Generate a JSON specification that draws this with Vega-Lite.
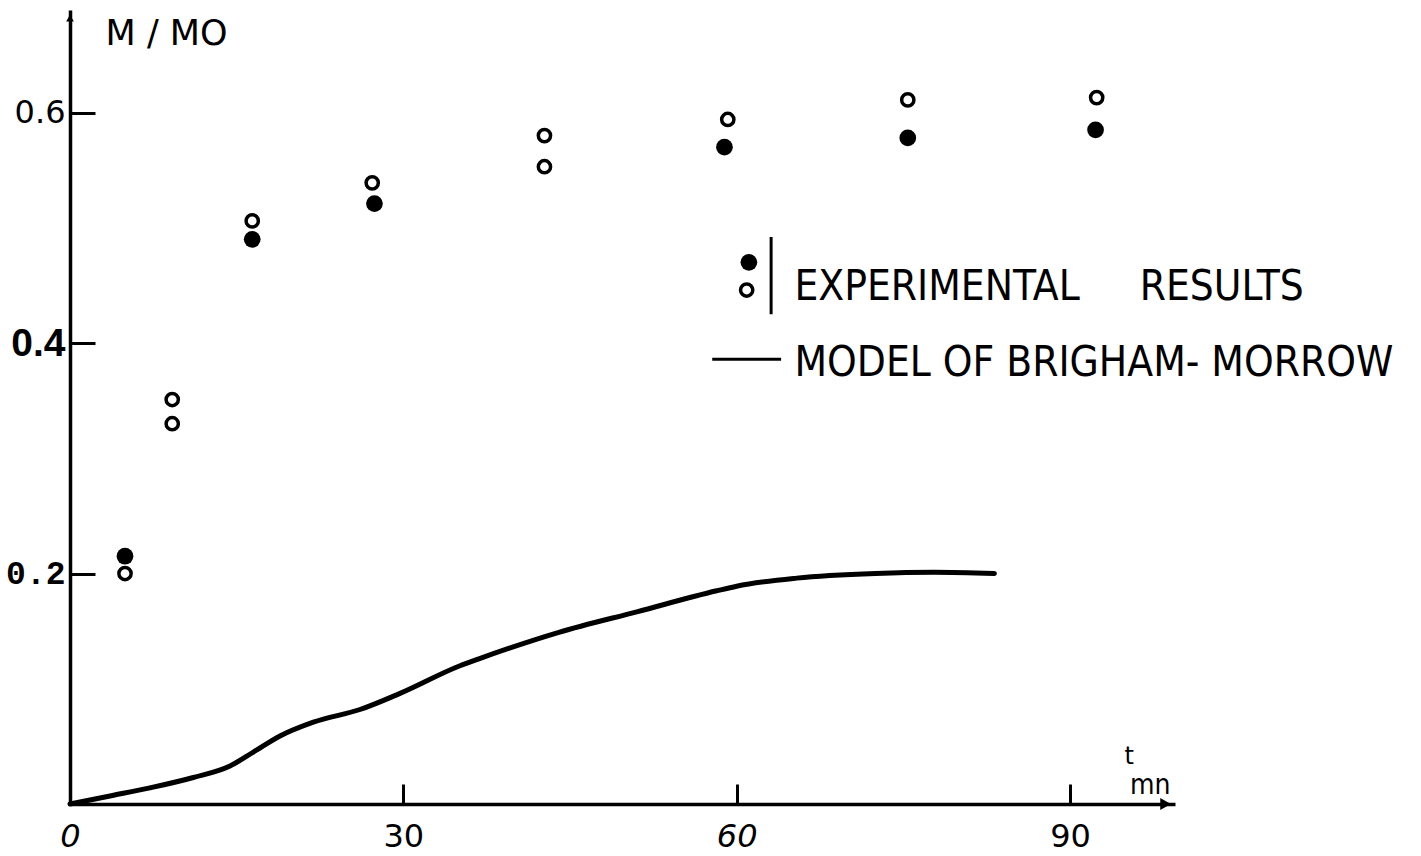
{
  "$schema": "https://vega.github.io/schema/vega-lite/v6.json",
  "width": 1105,
  "height": 794,
  "autosize": {"type": "none"},
  "padding": {"left": 70, "top": 10, "right": 246, "bottom": 52},
  "background": "white",
  "config": {"view": {"stroke": null}},
  "datasets": {
    "points": [
      {"x": 4.95, "y": 0.215, "series": "filled"},
      {"x": 16.4, "y": 0.49, "series": "filled"},
      {"x": 27.4, "y": 0.521, "series": "filled"},
      {"x": 58.9, "y": 0.57, "series": "filled"},
      {"x": 75.4, "y": 0.578, "series": "filled"},
      {"x": 92.3, "y": 0.585, "series": "filled"},
      {"x": 4.95, "y": 0.2, "series": "open"},
      {"x": 9.2, "y": 0.351, "series": "open"},
      {"x": 9.2, "y": 0.33, "series": "open"},
      {"x": 16.4, "y": 0.506, "series": "open"},
      {"x": 27.2, "y": 0.539, "series": "open"},
      {"x": 42.7, "y": 0.58, "series": "open"},
      {"x": 42.7, "y": 0.553, "series": "open"},
      {"x": 59.2, "y": 0.594, "series": "open"},
      {"x": 75.4, "y": 0.611, "series": "open"},
      {"x": 92.4, "y": 0.613, "series": "open"},
      {"x": 61.1, "y": 0.47, "series": "filled"},
      {"x": 60.9, "y": 0.446, "series": "open"}
    ]
  },
  "encoding": {
    "x": {
      "field": "x", "type": "quantitative",
      "scale": {"domain": [0, 99.45], "nice": false, "zero": false},
      "axis": {
        "values": [0, 30, 60, 90], "title": null, "grid": false,
        "domainColor": "black", "domainWidth": 3.5,
        "tickColor": "black", "tickWidth": 3, "tickSize": -20,
        "labelPadding": 37, "labelFont": "DejaVu Sans", "labelFontSize": 32,
        "labelColor": "black",
        "labelFontStyle": {"condition": {"test": "datum.value == 0 || datum.value == 60", "value": "italic"}, "value": "normal"},
        "labelOverlap": false, "labelFlush": false
      }
    },
    "y": {
      "field": "y", "type": "quantitative",
      "scale": {"domain": [0, 0.689], "nice": false, "zero": false},
      "axis": {
        "values": [0.2, 0.4, 0.6], "format": ".1f", "title": null, "grid": false,
        "domainColor": "black", "domainWidth": 3.5,
        "tickColor": "black", "tickWidth": 3, "tickSize": -25,
        "labelPadding": 30, "labelColor": "black",
        "labelFont": {"condition": [
          {"test": "datum.value < 0.3", "value": "Liberation Mono"},
          {"test": "datum.value < 0.5", "value": "Liberation Sans"}
        ], "value": "DejaVu Sans"},
        "labelFontSize": {"condition": [
          {"test": "datum.value < 0.3", "value": 33},
          {"test": "datum.value < 0.5", "value": 39}
        ], "value": 32},
        "labelFontWeight": {"condition": {"test": "datum.value < 0.5", "value": "bold"}, "value": "normal"},
        "labelOverlap": false, "labelFlush": false
      }
    }
  },
  "layer": [
    {
      "data": {"values": [
        {"x": 0, "y": 0},
        {"x": 3.6, "y": 0.007},
        {"x": 7.2, "y": 0.014},
        {"x": 11.1, "y": 0.023},
        {"x": 14.4, "y": 0.033},
        {"x": 16.5, "y": 0.045},
        {"x": 18.9, "y": 0.059},
        {"x": 21.9, "y": 0.071},
        {"x": 26.1, "y": 0.082},
        {"x": 29.7, "y": 0.096},
        {"x": 35.1, "y": 0.12},
        {"x": 36.8, "y": 0.126},
        {"x": 44.0, "y": 0.149},
        {"x": 51.1, "y": 0.167},
        {"x": 58.2, "y": 0.185},
        {"x": 60.0, "y": 0.189},
        {"x": 65.4, "y": 0.196},
        {"x": 72.5, "y": 0.2},
        {"x": 77.8, "y": 0.201},
        {"x": 83.2, "y": 0.2}
      ]},
      "mark": {"type": "line", "color": "black", "strokeWidth": 5, "interpolate": "monotone", "strokeCap": "round"}
    },
    {
      "data": {"name": "points"},
      "transform": [{"filter": "datum.series == 'filled'"}],
      "mark": {"type": "point", "shape": "circle", "filled": true, "color": "black", "opacity": 1, "size": 280}
    },
    {
      "data": {"name": "points"},
      "transform": [{"filter": "datum.series == 'open'"}],
      "mark": {"type": "point", "shape": "circle", "filled": false, "color": "black", "strokeWidth": 3.5, "opacity": 1, "size": 150}
    },
    {
      "data": {"values": [{"x": 63.1, "y": 0.425, "y2": 0.492}]},
      "mark": {"type": "rule", "color": "black", "strokeWidth": 3},
      "encoding": {"y2": {"field": "y2"}}
    },
    {
      "data": {"values": [{"x": 57.8, "x2": 64.0, "y": 0.386}]},
      "mark": {"type": "rule", "color": "black", "strokeWidth": 3},
      "encoding": {"x2": {"field": "x2"}}
    },
    {
      "data": {"values": [{"x": 98.6, "y": 0}]},
      "mark": {"type": "point", "shape": "triangle-right", "filled": true, "color": "black", "size": 150, "opacity": 1}
    },
    {
      "data": {"values": [{"x": 0, "y": 0.682}]},
      "mark": {"type": "point", "shape": "triangle-up", "filled": true, "color": "black", "size": 60, "opacity": 1}
    },
    {
      "data": {"values": [{"x": 3.2, "y": 0.668, "text": "M / MO"}]},
      "mark": {"type": "text", "align": "left", "baseline": "middle", "font": "DejaVu Sans", "fontSize": 35, "color": "black"},
      "encoding": {"text": {"field": "text"}}
    },
    {
      "data": {"values": [
        {"x": 65.2, "y": 0.449, "text": "EXPERIMENTAL\u00a0\u00a0\u00a0\u00a0\u00a0RESULTS"},
        {"x": 65.2, "y": 0.383, "text": "MODEL OF BRIGHAM- MORROW"}
      ]},
      "mark": {"type": "text", "align": "left", "baseline": "middle", "font": "DejaVu Sans Condensed, DejaVu Sans", "fontSize": 42, "color": "black"},
      "encoding": {"text": {"field": "text"}}
    },
    {
      "data": {"values": [{"x": 94.9, "y": 0.041, "text": "t"}]},
      "mark": {"type": "text", "align": "left", "baseline": "middle", "font": "DejaVu Sans", "fontSize": 24, "color": "black"},
      "encoding": {"text": {"field": "text"}}
    },
    {
      "data": {"values": [{"x": 95.4, "y": 0.016, "text": "mn"}]},
      "mark": {"type": "text", "align": "left", "baseline": "middle", "font": "DejaVu Sans Condensed, DejaVu Sans", "fontSize": 28, "color": "black"},
      "encoding": {"text": {"field": "text"}}
    }
  ]
}
